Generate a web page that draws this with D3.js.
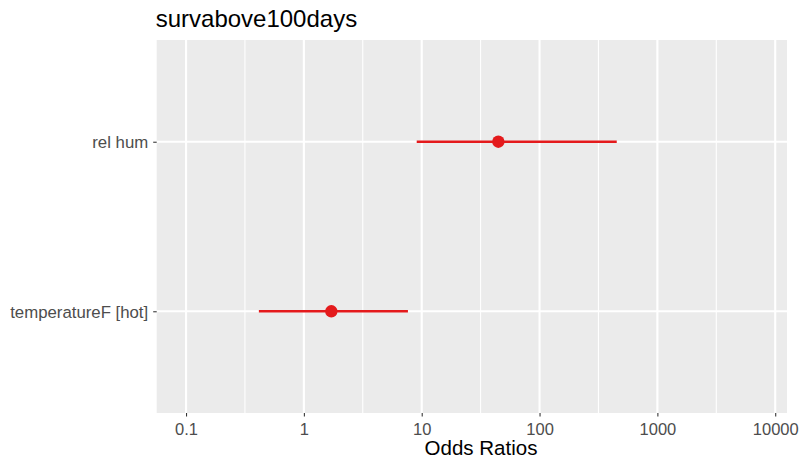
<!DOCTYPE html>
<html><head><meta charset="utf-8">
<script src="https://cdn.jsdelivr.net/npm/d3@7"></script>
<style>body{margin:0;background:#fff}text{font-family:"Liberation Sans",Arial,sans-serif}</style>
</head><body><svg id="c" width="801" height="460"></svg>
<script>
const terms = ["rel hum", "temperatureF [hot]"];
const estimates = [44.7, 1.71];
const lowers = [9.07, 0.415];
const uppers = [452, 7.64];
const tickValues = [0.1, 1, 10, 100, 1000, 10000];
const tickLabels = ["0.1", "1", "10", "100", "1000", "10000"];
const minorValues = [0.316, 3.16, 31.6, 316, 3162];
const title = "survabove100days";
const xTitle = "Odds Ratios";

const svg = d3.select("#c");
const L = 156.7, R = 787, T = 40, B = 413;
const x = d3.scaleLog().domain([Math.pow(10, -1.249), Math.pow(10, 4.10)]).range([L, R]);
const unit = (B - T) / (terms.length - 1 + 1.2);
const y = d3.scaleOrdinal().domain(terms).range(terms.map((d, i) => T + (0.6 + i) * unit));

svg.append("rect").attr("x", L).attr("y", T).attr("width", R - L).attr("height", B - T).attr("fill", "#EBEBEB");
svg.selectAll(".minor").data(minorValues).join("line")
  .attr("x1", d => x(d)).attr("x2", d => x(d)).attr("y1", T).attr("y2", B)
  .attr("stroke", "#fff").attr("stroke-width", 1.07);
svg.selectAll(".major").data(tickValues).join("line")
  .attr("x1", d => x(d)).attr("x2", d => x(d)).attr("y1", T).attr("y2", B)
  .attr("stroke", "#fff").attr("stroke-width", 2.13);
svg.selectAll(".hmaj").data(terms).join("line")
  .attr("x1", L).attr("x2", R).attr("y1", d => y(d)).attr("y2", d => y(d))
  .attr("stroke", "#fff").attr("stroke-width", 2.13);

// x axis
const xAxis = d3.axisBottom(x).tickValues(tickValues).tickFormat((d, i) => tickLabels[i]).tickSize(3.5).tickPadding(6.8);
const gx = svg.append("g").attr("transform", `translate(0,${B})`).call(xAxis);
gx.select(".domain").remove();
gx.selectAll(".tick line").attr("stroke", "#333").attr("stroke-width", 1.07);
gx.selectAll(".tick text").attr("fill", "#4D4D4D").attr("font-size", "16.5px").attr("font-family", "Liberation Sans, Arial, sans-serif");

// y axis
const yAxis = d3.axisLeft(y).tickSize(3.5).tickPadding(5);
const gy = svg.append("g").attr("transform", `translate(${L},0)`).call(yAxis);
gy.select(".domain").remove();
gy.selectAll(".tick line").attr("stroke", "#333").attr("stroke-width", 1.07);
gy.selectAll(".tick text").attr("fill", "#4D4D4D").attr("font-size", "16.8px").attr("font-family", "Liberation Sans, Arial, sans-serif").attr("dy", "0.36em");

// data
const data = terms.map((t, i) => ({t, est: estimates[i], lo: lowers[i], hi: uppers[i]}));
svg.selectAll(".ci").data(data).join("line")
  .attr("x1", d => x(d.lo)).attr("x2", d => x(d.hi))
  .attr("y1", d => y(d.t)).attr("y2", d => y(d.t))
  .attr("stroke", "#E41A1C").attr("stroke-width", 2.6);
svg.selectAll(".pt").data(data).join("circle")
  .attr("cx", d => x(d.est)).attr("cy", d => y(d.t)).attr("r", 6.2)
  .attr("fill", "#E41A1C");

svg.append("text").attr("x", L - 1).attr("y", 27).attr("font-size", "24px").attr("fill", "#000").text(title);
svg.append("text").attr("x", 481).attr("y", 455).attr("text-anchor", "middle").attr("font-size", "20.5px").attr("fill", "#000").text(xTitle);
</script></body></html>
